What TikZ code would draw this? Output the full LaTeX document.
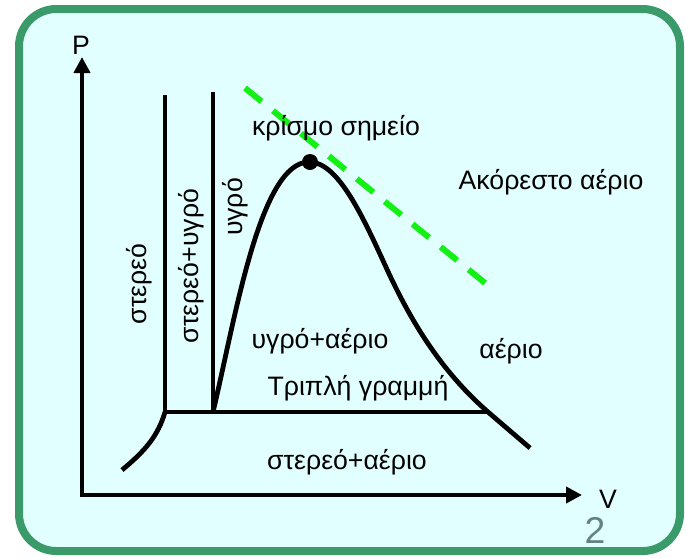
\documentclass[tikz,border=0pt]{standalone}
\usepackage{fontspec}
\setmainfont{Liberation Sans}
\usetikzlibrary{arrows.meta}
\definecolor{BoxGreen}{RGB}{58,154,106}
\definecolor{BoxFill}{RGB}{226,255,255}
\definecolor{TanGreen}{RGB}{20,240,20}
\definecolor{NumGray}{RGB}{100,132,132}

\begin{document}
\begin{tikzpicture}[x=0.75pt, y=-0.75pt,
          phase/.style={font=\fontsize{20}{23}\selectfont, inner sep=0pt},
          vphase/.style={phase, rotate=90},
          axis/.style={-{Triangle[length=12pt, width=12pt]}, line width=3pt},
          curve/.style={line width=3.6pt, line join=round},
          tangent/.style={TanGreen, line width=4.5pt,
                          dash pattern=on 16pt off 11pt},
          crit/.style={circle, fill=black, inner sep=0pt, minimum size=12pt}
        ]
        \useasboundingbox (0,0) rectangle (685,558);

        % Frame
        \draw[BoxGreen, line width=6pt, fill=BoxFill, rounded corners=28pt]
              (19,9) rectangle (680,551);

        % Axes
        \coordinate (O) at (82,495);
        \coordinate (Ptop) at (82,57);
        \coordinate (Vend) at (582,495);
        \draw[axis] (82,497) -- (Ptop);
        \draw[axis] (80,495) -- (Vend);
        \node[phase] (P) at (81,45) {P};
        \node[phase] (V) at (608,499) {V};
        \node[font=\fontsize{28}{30}\selectfont, NumGray, inner sep=0pt]
              (num) at (595,530) {2};

        % Phase boundaries
        \coordinate (A) at (165,412);  % solid | solid+liquid foot
        \coordinate (B) at (213,412);  % dome foot
        \coordinate (C) at (310,162);  % critical point
        \coordinate (D) at (488,412);  % triple line end
        \coordinate (E) at (530,448);
        \draw[curve] (165,95) -- (A);
        \draw[curve] (213,92) -- (B);
        \draw[curve] (A) -- (D);
        \draw[curve] (A) .. controls (158,436) and (145,451) .. (122,470);
        \draw[curve] (B) .. controls (235,320) and (260,160) .. (C)
              .. controls (337,163) and (360,210) .. (385,265)
              .. controls (410,320) and (440,370) .. (D) -- (E);

        % Critical isotherm tangent
        \coordinate (T1) at (245,88);
        \coordinate (T2) at (490,287);
        \draw[tangent] (T1) -- (T2);
        \node[crit] (cp) at (C) {};

        % Labels
        \node[phase] (kr)  at (336,128) {κρίσμο σημείο};
        \node[phase] (ak)  at (551,182) {Ακόρεστο αέριο};
        \node[vphase] (st) at (139,284) {στερεό};
        \node[vphase] (sy) at (191,266) {στερεό+υγρό};
        \node[vphase] (yg) at (235,207) {υγρό};
        \node[phase] (ya)  at (320,341) {υγρό+αέριο};
        \node[phase] (ae)  at (511,351) {αέριο};
        \node[phase] (tr)  at (358,388) {Τριπλή γραμμή};
        \node[phase] (sa)  at (347,462) {στερεό+αέριο};
      \end{tikzpicture}
\end{document}
